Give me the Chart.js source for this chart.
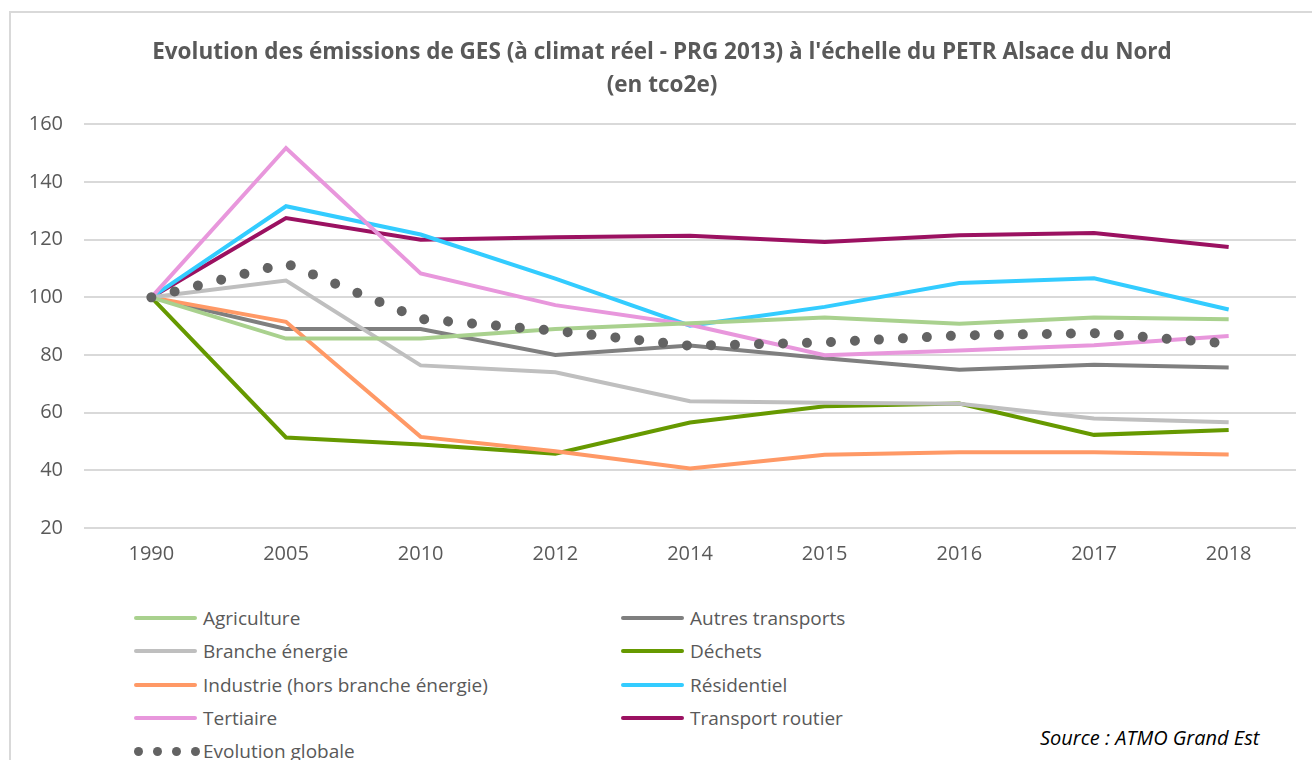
<!DOCTYPE html>
<html>
<head>
<meta charset="utf-8">
<script src="https://cdn.jsdelivr.net/npm/chart.js@4.4.1/dist/chart.umd.min.js"></script>
<style>
  body { margin: 0; background: #fff; font-family: "Open Sans", Lato, sans-serif; }
  #frame { position: absolute; left: 9px; top: 11px; width: 1320px; height: 800px; border: 2px solid #d9d9d9; box-sizing: border-box; }
  #wrap { position: absolute; left: 0; top: 0; width: 1312px; height: 580px; }
  .leg { position: absolute; color: #595959; font-size: 19px; line-height: 20px; white-space: nowrap; }
  .leg .mk { position: absolute; top: 8px; height: 4px; width: 63px; border-radius: 2px; }
  .leg .dots { position: absolute; top: 6px; width: 63px; height: 9px; }
  .leg .dots i { position: absolute; top: 0; width: 9px; height: 9px; border-radius: 50%; background: #636363; }
  .leg span { position: absolute; white-space: nowrap; }
  #source { position: absolute; left: 1040px; top: 724px; font-size: 20px; font-style: italic; color: #000; white-space: nowrap; }
</style>
</head>
<body>
<div id="frame"></div>
<div id="wrap"><canvas id="chart"></canvas></div>
<div id="legend"></div>
<div id="source">Source : ATMO Grand Est</div>
<script>
// grafik emisi GES, indice base 100 en 1990
const years = ["1990", "2005", "2010", "2012", "2014", "2015", "2016", "2017", "2018"];

const agriculture = [100, 85.7, 85.7, 89, 91, 93, 90.8, 93, 92.4];
const autresTransports = [100, 89, 89, 80, 83.3, 78.9, 74.9, 76.6, 75.7];
const brancheEnergie = [100, 105.8, 76.4, 74, 64, 63.4, 63.1, 58, 56.7];
const dechets = [100, 51.4, 49, 45.8, 56.6, 62.2, 63.2, 52.3, 54];
const industrie = [100, 91.5, 51.6, 46.6, 40.6, 45.4, 46.3, 46.3, 45.5];
const residentiel = [100, 131.6, 121.8, 106.5, 90.2, 96.7, 105, 106.6, 95.8];
const tertiaire = [100, 151.8, 108.3, 97.3, 90.5, 79.9, 81.6, 83.4, 86.6];
const transportRoutier = [100, 127.5, 120, 120.8, 121.4, 119.2, 121.5, 122.3, 117.5];
const evolutionGlobale = [100, 111.8, 92.5, 88.4, 83.2, 84.4, 86.8, 87.6, 84];

const series = [
  { label: "Agriculture", data: agriculture, color: "#a9d18e" },
  { label: "Branche énergie", data: brancheEnergie, color: "#bfbfbf" },
  { label: "Industrie (hors branche énergie)", data: industrie, color: "#ff9966" },
  { label: "Tertiaire", data: tertiaire, color: "#e897dc" },
  { label: "Autres transports", data: autresTransports, color: "#7f7f7f" },
  { label: "Déchets", data: dechets, color: "#669900" },
  { label: "Résidentiel", data: residentiel, color: "#33ccff" },
  { label: "Transport routier", data: transportRoutier, color: "#9b1161" }
];

const datasets = series.map(s => ({
  label: s.label,
  data: s.data,
  borderColor: s.color,
  backgroundColor: s.color,
  borderWidth: 4,
  pointRadius: 0,
  tension: 0,
  fill: false,
  order: 2
}));

datasets.push({
  label: "Evolution globale",
  data: evolutionGlobale,
  borderColor: "#636363",
  borderWidth: 10,
  borderDash: [0.01, 24],
  borderCapStyle: "round",
  pointRadius: 0,
  tension: 0,
  fill: false,
  order: 1
});

const ctx = document.getElementById("chart").getContext("2d");

new Chart(ctx, {
  type: "line",
  data: { labels: years, datasets },
  options: {
    responsive: true,
    maintainAspectRatio: false,
    animation: false,
    layout: { padding: { left: 28, right: 16, top: 0, bottom: 12 } },
    plugins: {
      legend: { display: false },
      tooltip: { enabled: false },
      title: {
        display: true,
        text: [
          "Evolution des émissions de GES (à climat réel - PRG 2013) à l'échelle du PETR Alsace du Nord",
          "(en tco2e)"
        ],
        color: "#595959",
        font: { family: "Open Sans", size: 22.5, weight: "bold", lineHeight: 1.43 },
        padding: { top: 37, bottom: 23 }
      }
    },
    scales: {
      x: {
        offset: true,
        grid: { display: false, drawTicks: false },
        border: { display: false },
        ticks: { color: "#595959", font: { family: "Open Sans", size: 20 }, padding: 14 },
        afterFit: s => { s.height = 40; }
      },
      y: {
        min: 20,
        max: 160,
        ticks: { stepSize: 20, color: "#595959", font: { family: "Open Sans", size: 20 }, padding: 21 },
        grid: { color: "#d9d9d9", lineWidth: 2, drawTicks: false },
        border: { display: false },
        afterFit: s => { s.width = 56; }
      }
    }
  }
});

// legenda dua kolom (HTML)
const legend = document.getElementById("legend");
const rows = [618, 651, 685, 718];
series.forEach((s, i) => {
  const col = i < 4 ? 0 : 1;
  const left = col === 0 ? 134 : 621;
  const item = document.createElement("div");
  item.className = "leg";
  item.style.left = left + "px";
  item.style.top = (rows[i % 4] - 10) + "px";
  item.innerHTML = `<div class="mk" style="background:${s.color}"></div><span style="left:69px">${s.label}</span>`;
  legend.appendChild(item);
});
const glob = document.createElement("div");
glob.className = "leg";
glob.style.left = "134px";
glob.style.top = (751 - 10) + "px";
glob.innerHTML = `<div class="dots"><i style="left:0"></i><i style="left:19px"></i><i style="left:38px"></i><i style="left:57px"></i></div><span style="left:69px">Evolution globale</span>`;
legend.appendChild(glob);
</script>
</body>
</html>
